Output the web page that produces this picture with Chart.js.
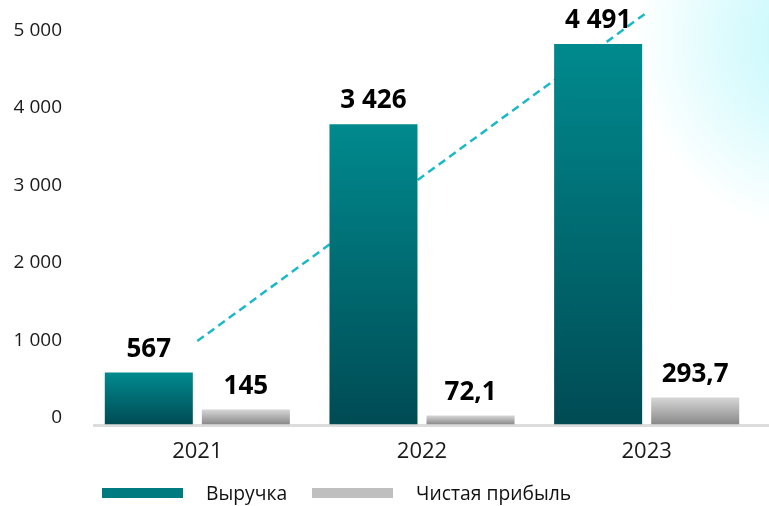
<!DOCTYPE html>
<html>
<head>
<meta charset="utf-8">
<script src="https://cdn.jsdelivr.net/npm/chart.js@4/dist/chart.umd.min.js"></script>
<style>
    body {
        margin: 0;
        background: #ffffff;
    }

    #wrap {
        position: relative;
        width: 769px;
        height: 506px;
        background: radial-gradient(ellipse 170px 190px at 805px 40px, #c6f8fc 0%, #dcfbfd 45%, rgba(255, 255, 255, 0) 100%), #ffffff;
    }

    #legend {
        position: absolute;
        left: 102px;
        top: 479px;
        display: flex;
        align-items: center;
        font-family: "Open Sans", sans-serif;
        font-size: 19.3px;
        color: #111111;
    }

    .legendBox {
        width: 81px;
        height: 10px;
        margin-right: 23px;
    }

    .legendText {
        margin-right: 25px;
    }
</style>
</head>
<body>
<div id="wrap">
    <canvas id="financeChart" width="769" height="506"></canvas>
    <div id="legend"></div>
</div>
<script>
const years = ['2021', '2022', '2023'];

// bar heights
const revenueValues = [673, 3881, 4916];
const profitValues = [194, 116, 349];

// printed values above the bars
const revenueLabels = ['567', '3 426', '4 491'];
const profitLabels = ['145', '72,1', '293,7'];

// dashed trend line (2021 -> 2023)
const trendValues = [1079, null, 5322];

const yTicks = [0, 1000, 2000, 3000, 4000, 5000];

const tealTop = '#008a8e';
const tealBottom = '#004b54';
const greyTop = '#d6d6d6';
const greyBottom = '#888888';

function barGradient(context, topColor, bottomColor) {
    var chart = context.chart;
    var yScale = chart.scales.y;
    if (!chart.chartArea || !yScale || context.raw === undefined) {
        return topColor;
    }
    var top = yScale.getPixelForValue(context.raw);
    var bottom = yScale.getPixelForValue(0);
    var gradient = chart.ctx.createLinearGradient(0, top, 0, bottom);
    gradient.addColorStop(0, topColor);
    gradient.addColorStop(1, bottomColor);
    return gradient;
}

//Grey base line, starts a little right of the plot and runs to the edge.
const baseLinePlugin = {
    id: 'baseLine',
    beforeDatasetsDraw: function (chart) {
        var ctx = chart.ctx;
        var y = chart.scales.y.getPixelForValue(0) + 1;
        ctx.save();
        ctx.strokeStyle = '#dcdcdc';
        ctx.lineWidth = 3;
        ctx.beginPath();
        ctx.moveTo(chart.chartArea.left + 8, y);
        ctx.lineTo(chart.width, y);
        ctx.stroke();
        ctx.restore();
    }
};

//Draws the printed values above each bar.
const valueLabelsPlugin = {
    id: 'valueLabels',
    afterDatasetsDraw: function (chart) {
        var ctx = chart.ctx;
        ctx.save();
        ctx.font = 'bold 26px "Open Sans", sans-serif';
        ctx.fillStyle = '#000000';
        ctx.textAlign = 'center';
        ctx.textBaseline = 'alphabetic';
        chart.data.datasets.forEach(function (dataSet, datasetIndex) {
            if (!dataSet.valueLabels) {
                return;
            }
            chart.getDatasetMeta(datasetIndex).data.forEach(function (bar, i) {
                ctx.fillText(dataSet.valueLabels[i], bar.x, bar.y - 16);
            });
        });
        ctx.restore();
    }
};

var financeChart = new Chart(document.getElementById('financeChart'), {
    type: 'bar',
    data: {
        labels: years,
        datasets: [
            {
                label: 'Выручка',
                data: revenueValues,
                valueLabels: revenueLabels,
                legendColor: '#007b80',
                backgroundColor: function (context) {
                    return barGradient(context, tealTop, tealBottom);
                },
                borderWidth: 0,
                order: 1
            },
            {
                label: 'Чистая прибыль',
                data: profitValues,
                valueLabels: profitLabels,
                legendColor: '#bfbfbf',
                backgroundColor: function (context) {
                    return barGradient(context, greyTop, greyBottom);
                },
                borderWidth: 0,
                order: 1
            },
            {
                type: 'line',
                label: 'trend',
                data: trendValues,
                spanGaps: true,
                borderColor: '#1bb9c7',
                borderWidth: 2.5,
                borderDash: [8, 5],
                pointRadius: 0,
                fill: false,
                order: 2
            }
        ]
    },
    options: {
        responsive: false,
        animation: false,
        layout: {
            padding: { top: 0, right: 10, bottom: 27, left: 0 }
        },
        datasets: {
            bar: {
                categoryPercentage: 0.864,
                barPercentage: 0.907
            }
        },
        scales: {
            x: {
                grid: {
                    display: false,
                    drawTicks: false
                },
                border: {
                    display: false
                },
                ticks: {
                    padding: 14,
                    color: '#1a1a1a',
                    font: { family: '"Open Sans", sans-serif', size: 22 }
                }
            },
            y: {
                min: 0,
                max: 5485,
                afterFit: function (scale) {
                    scale.width = 85;
                    scale.paddingTop = 0;
                    scale.paddingBottom = 0;
                },
                afterBuildTicks: function (scale) {
                    scale.ticks = yTicks.map(function (v) {
                        return { value: v };
                    });
                },
                grid: {
                    display: false,
                    drawTicks: false
                },
                border: {
                    display: false
                },
                ticks: {
                    padding: 23,
                    labelOffset: -7,
                    color: '#1a1a1a',
                    font: { family: '"Open Sans", sans-serif', size: 19 },
                    callback: function (value) {
                        return value.toLocaleString('ru-RU').replace(/\s/g, ' ');
                    }
                }
            }
        },
        plugins: {
            legend: {
                display: false
            },
            tooltip: {
                enabled: false
            }
        }
    },
    plugins: [baseLinePlugin, valueLabelsPlugin]
});

//Build the legend under the chart from the bar datasets.
var legendControl = document.getElementById('legend');
financeChart.data.datasets.forEach(function (dataSet) {
    if (!dataSet.legendColor) {
        return;
    }
    var box = document.createElement('span');
    box.className = 'legendBox';
    box.style.background = dataSet.legendColor;
    var text = document.createElement('span');
    text.className = 'legendText';
    text.textContent = dataSet.label;
    legendControl.appendChild(box);
    legendControl.appendChild(text);
});
</script>
</body>
</html>
